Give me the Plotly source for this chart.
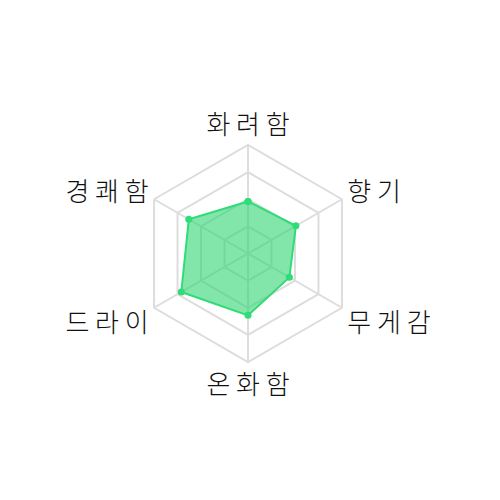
import plotly.graph_objects as go

# 향 프로필 (0-100)
categories = ["화려함", "향기", "무게감", "온화함", "드라이", "경쾌함"]
values = [48, 51, 44, 57, 71, 63]
ring_ticks = [25, 50, 75, 100]

# the reference spaces the syllables out
tick_text = [" ".join(c) for c in categories]

fig = go.Figure()

fig.add_trace(go.Scatterpolar(
    r=values + values[:1],
    theta=categories + categories[:1],
    mode="lines+markers",
    fill="toself",
    fillcolor="rgba(46, 214, 115, 0.6)",
    line=dict(color="#2fdc76", width=2),
    marker=dict(color="#2fdc76", size=7),
    hoverinfo="skip",
    showlegend=False,
))

fig.update_layout(
    width=500,
    height=500,
    margin=dict(l=131, r=151, t=137, b=146),
    paper_bgcolor="white",
    font=dict(family="Noto Sans CJK KR", size=24, color="#111111"),
    polar=dict(
        bgcolor="white",
        gridshape="linear",
        angularaxis=dict(
            direction="clockwise",
            rotation=90,
            tickvals=categories,
            ticktext=tick_text,
            showline=True,
            linecolor="#dddddd",
            linewidth=2,
            gridcolor="#dddddd",
            gridwidth=2,
            ticks="",
            tickfont=dict(family="Noto Sans CJK KR", size=26, color="#111111", weight=300),
        ),
        radialaxis=dict(
            range=[0, 100],
            tickvals=ring_ticks,
            showticklabels=False,
            ticks="",
            showline=False,
            gridcolor="#dddddd",
            gridwidth=2,
        ),
    ),
)

fig.write_html("out.html")
